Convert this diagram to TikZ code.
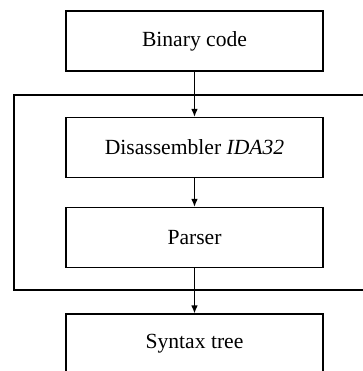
\documentclass[tikz,border=0pt]{standalone}
\usepackage{fontspec}
\setmainfont{Liberation Serif}
\usetikzlibrary{arrows.meta}
\begin{document}
\begin{tikzpicture}[
    x=0.5pt, y=-0.5pt,
    block/.style={rectangle, draw, line width=0.6pt, minimum width=128.5pt, minimum height=30pt, font=\fontsize{10.8}{13}\selectfont},
    frame/.style={rectangle, draw, line width=0.6pt, minimum width=181pt, minimum height=97.5pt},
    line/.style={draw, -{Latex[length=4pt,width=3.3pt]}, line width=0.6pt}
]
    \useasboundingbox (0,0) rectangle (363,371);
    \clip (0,0) rectangle (363,371);

    \node [frame] (front) at (195,192.5) {};
    \node [block] (binary) at (194.5,41) {Binary code};
    \node [block] (disasm) at (194.5,147.5) {Disassembler \textit{IDA32}};
    \node [block] (parser) at (194.5,237.5) {Parser};
    \node [block] (syntax) at (194.5,344) {Syntax tree};

    \draw [line] (binary) -- (disasm);
    \draw [line] (disasm) -- (parser);
    \draw [line] (parser) -- (syntax);
\end{tikzpicture}
\end{document}
